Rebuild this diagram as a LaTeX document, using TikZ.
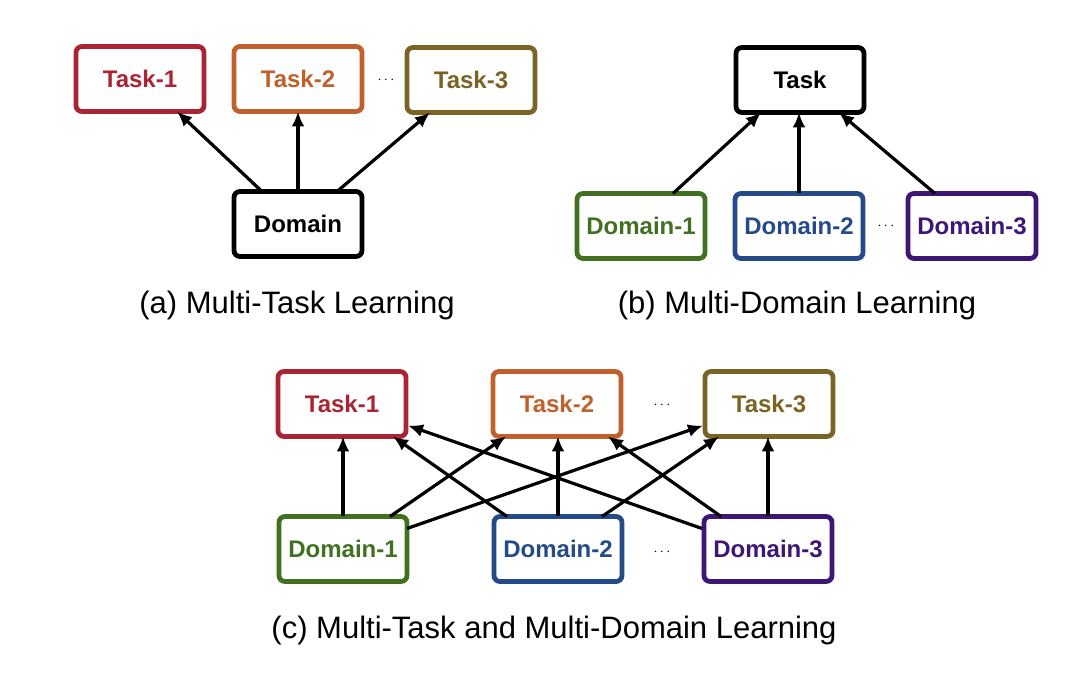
\documentclass[tikz,border=0pt]{standalone}
\usepackage{fontspec}
\setmainfont{Liberation Sans}
\usepackage{tikz}
\usetikzlibrary{calc,arrows.meta}

\definecolor{cTaskA}{RGB}{170,36,52}
\definecolor{cTaskB}{RGB}{192,96,44}
\definecolor{cTaskC}{RGB}{122,100,36}
\definecolor{cDomA}{RGB}{64,112,32}
\definecolor{cDomB}{RGB}{36,74,138}
\definecolor{cDomC}{RGB}{62,22,118}

\begin{document}
\begin{tikzpicture}[x=1pt,y=-1pt,inner sep=0pt,outer sep=0pt,
    box/.style={draw,line width=4.8pt,rounded corners=6pt,fill=white,
      minimum width=128pt,minimum height=65pt,
      font=\fontsize{24}{28}\selectfont\bfseries},
    arr/.style={line width=3.2pt,-{Latex[length=15pt,width=13pt]}},
    captext/.style={font=\fontsize{31}{36}\selectfont},
    dots/.style={font=\fontsize{14}{16}\selectfont}]
    \useasboundingbox (0,0) rectangle (1080,684);

    % multi-task
    \node[box,draw=cTaskA,text=cTaskA] (ta_1) at (140,79) {Task-1};
    \node[box,draw=cTaskB,text=cTaskB] (ta_2) at (298,79) {Task-2};
    \node[box,draw=cTaskC,text=cTaskC] (ta_3) at (471,80) {Task-3};
    \node[dots] (ta_dots) at (386,80) {$\cdots$};
    \node[box,draw=black] (da) at (298,224) {Domain};

    \draw[arr] ($(da.north west)+(28,0)$) -- ($(ta_1.south east)+(-27,0)$);
    \draw[arr] (da.north) -- (ta_2.south);
    \draw[arr] ($(da.north east)+(-25,0)$) -- ($(ta_3.south west)+(23,0)$);

    \node[captext] (cap_a) at (297,305) {(a) Multi-Task Learning};

    % multi-domain
    \node[box,draw=black] (tb) at (800,80) {Task};
    \node[box,draw=cDomA,text=cDomA] (db_1) at (641,226) {Domain-1};
    \node[box,draw=cDomB,text=cDomB] (db_2) at (799,226) {Domain-2};
    \node[box,draw=cDomC,text=cDomC] (db_3) at (972,226) {Domain-3};
    \node[dots] (db_dots) at (886,226) {$\cdots$};

    \draw[arr] ($(db_1.north east)+(-32,0)$) -- ($(tb.south west)+(25,0)$);
    \draw[arr] (db_2.north) -- (db_2.north |- tb.south);
    \draw[arr] ($(db_3.north west)+(27,0)$) -- ($(tb.south east)+(-25,0)$);

    \node[captext] (cap_b) at (797,305) {(b) Multi-Domain Learning};

    % multi-task and multi-domain
    \node[box,draw=cTaskA,text=cTaskA] (tc_1) at (342,404) {Task-1};
    \node[box,draw=cTaskB,text=cTaskB] (tc_2) at (557,404) {Task-2};
    \node[box,draw=cTaskC,text=cTaskC] (tc_3) at (769,404) {Task-3};
    \node[dots] (tc_dots) at (662,405) {$\cdots$};
    \node[box,draw=cDomA,text=cDomA] (dc_1) at (343,549) {Domain-1};
    \node[box,draw=cDomB,text=cDomB] (dc_2) at (558,549) {Domain-2};
    \node[box,draw=cDomC,text=cDomC] (dc_3) at (768,549) {Domain-3};
    \node[dots] (dc_dots) at (662,552) {$\cdots$};

    % straight up
    \draw[arr] (dc_1.north) -- (dc_1.north |- tc_1.south);
    \draw[arr] (dc_2.north) -- (dc_2.north |- tc_2.south);
    \draw[arr] (dc_3.north) -- (dc_3.north |- tc_3.south);
    % neighbours
    \draw[arr] ($(dc_1.north east)+(-17,0)$) -- ($(tc_2.south west)+(13,0)$);
    \draw[arr] ($(dc_2.north west)+(13,0)$) -- ($(tc_1.south east)+(-13,0)$);
    \draw[arr] ($(dc_2.north east)+(-20,0)$) -- ($(tc_3.south west)+(14,0)$);
    \draw[arr] ($(dc_3.north west)+(17,0)$) -- ($(tc_2.south east)+(-13,0)$);
    % far ends
    \draw[arr] ($(dc_1.north east)+(0,12)$) -- ($(tc_3.south west)+(-2,-11)$);
    \draw[arr] ($(dc_3.north west)+(-2,12)$) -- ($(tc_1.south east)+(2,-11)$);

    \node[captext] (cap_c) at (554,630) {(c) Multi-Task and Multi-Domain Learning};
\end{tikzpicture}
\end{document}
